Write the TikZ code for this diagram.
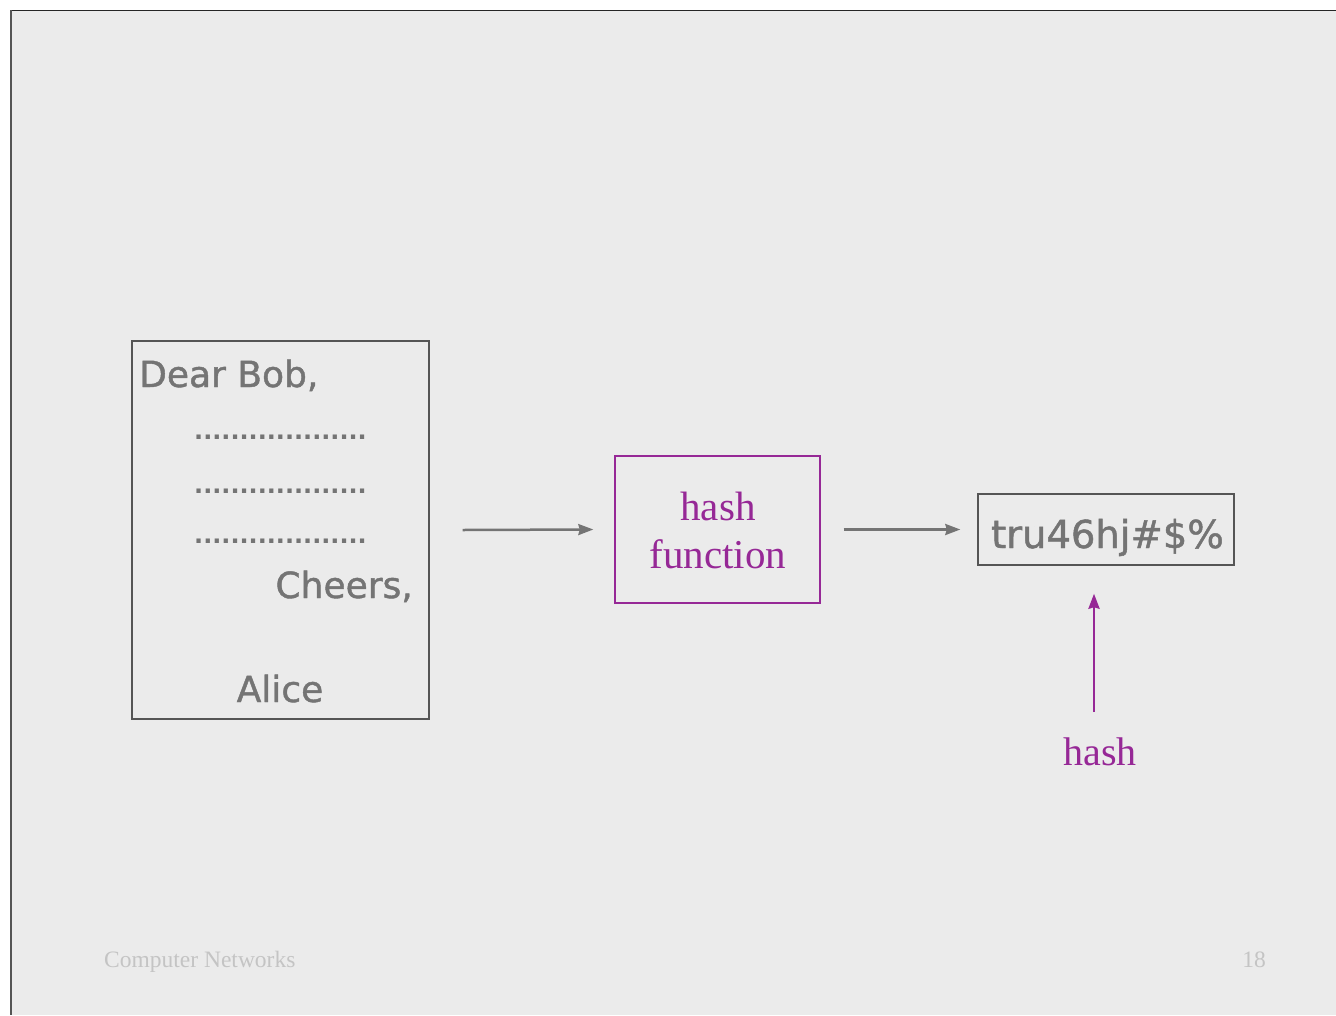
\documentclass[tikz,border=0pt]{standalone}
\usepackage{fontspec}
\setmainfont{Liberation Serif}
\newfontfamily\handfont[FakeBold=1.2]{DejaVu Sans}
\newfontfamily\dotfont{DejaVu Sans Bold}
\usetikzlibrary{arrows.meta}
\definecolor{bgc}{HTML}{EBEBEB}
\definecolor{lettergray}{HTML}{747474}
\definecolor{boxgray}{HTML}{555555}
\definecolor{hashpurple}{RGB}{150,40,150}
\definecolor{footgray}{HTML}{C4C4C4}
\tikzset{
  plainbox/.style={draw=boxgray, line width=1.4pt, inner sep=0pt},
  purplebox/.style={draw=hashpurple, line width=1.4pt, inner sep=0pt},
  grayarrow/.style={draw=lettergray, line width=2.5pt, arrows={-Stealth[length=15pt,width=11pt,inset=1.5pt]}},
  purplearrow/.style={draw=hashpurple, line width=2.8pt, arrows={-Stealth[length=15pt,width=11pt,inset=1.5pt]}},
  lettertext/.style={inner sep=0pt, text=lettergray, font=\handfont\fontsize{36}{40}\selectfont},
  dotline/.style={inner sep=0pt, text=lettergray, font=\dotfont\fontsize{23.9}{26}\selectfont},
  footer/.style={inner sep=0pt, text=footgray, font=\fontsize{23.5}{26}\selectfont}
}
\begin{document}
\begin{tikzpicture}[x=1pt,y=-1pt]
\useasboundingbox (0,0) rectangle (1336,1015);
\fill[white] (0,0) rectangle (1336,1015);
\fill[bgc] (10,10) rectangle (1336,1015);
\draw[black!85, line width=1.5pt] (10,10.5) -- (1336,10.5);
\draw[boxgray, line width=2pt] (11,10) -- (11,1015);

% letter
\node[plainbox, minimum width=297pt, minimum height=378pt] (letter) at (280.5,530) {};
\node[lettertext, anchor=base west] (dear) at (139,387) {Dear Bob,};
\node[dotline, anchor=base west] (dots1) at (194,439) {...................};
\node[dotline, anchor=base west] (dots2) at (194,493) {...................};
\node[dotline, anchor=base west] (dots3) at (194,543) {...................};
\node[lettertext, anchor=base east] (cheers) at (413,598) {Cheers,};
\node[lettertext, anchor=base] (alice) at (280,702) {Alice};

% hash function
\node[purplebox, minimum width=205pt, minimum height=147pt] (hf) at (717.5,529.5) {};
\node[inner sep=0pt, text=hashpurple, font=\fontsize{41}{48}\selectfont, anchor=base] (hfl1) at (718,520) {hash};
\node[inner sep=0pt, text=hashpurple, font=\fontsize{41}{48}\selectfont, anchor=base] (hfl2) at (718,568) {function};

% hash value
\node[plainbox, minimum width=256pt, minimum height=71pt] (hv) at (1106,529.5) {};
\node[lettertext, font=\handfont\fontsize{38.5}{42}\selectfont, anchor=base] (hvt) at (1107.5,548) {tru46hj\#\$\%};

% hash label
\node[inner sep=0pt, text=hashpurple, font=\fontsize{40}{44}\selectfont, anchor=base] (hashlbl) at (1100,765) {hash};
\coordinate (hup) at (1094,712);
\coordinate (htip) at ([yshift=-28pt]hv.south);

% connectors
\draw[grayarrow] ([xshift=33pt]letter.east) -- ([xshift=-21pt]hf.west);
\draw[grayarrow] ([xshift=23pt]hf.east) -- ([xshift=-17pt]hv.west);
\draw[purplearrow] (hup) -- (hup |- htip);

% footer
\node[footer, anchor=base west] (foot) at (104,967) {Computer Networks};
\node[footer, anchor=base east] (page) at (1266,967) {18};
\end{tikzpicture}
\end{document}
